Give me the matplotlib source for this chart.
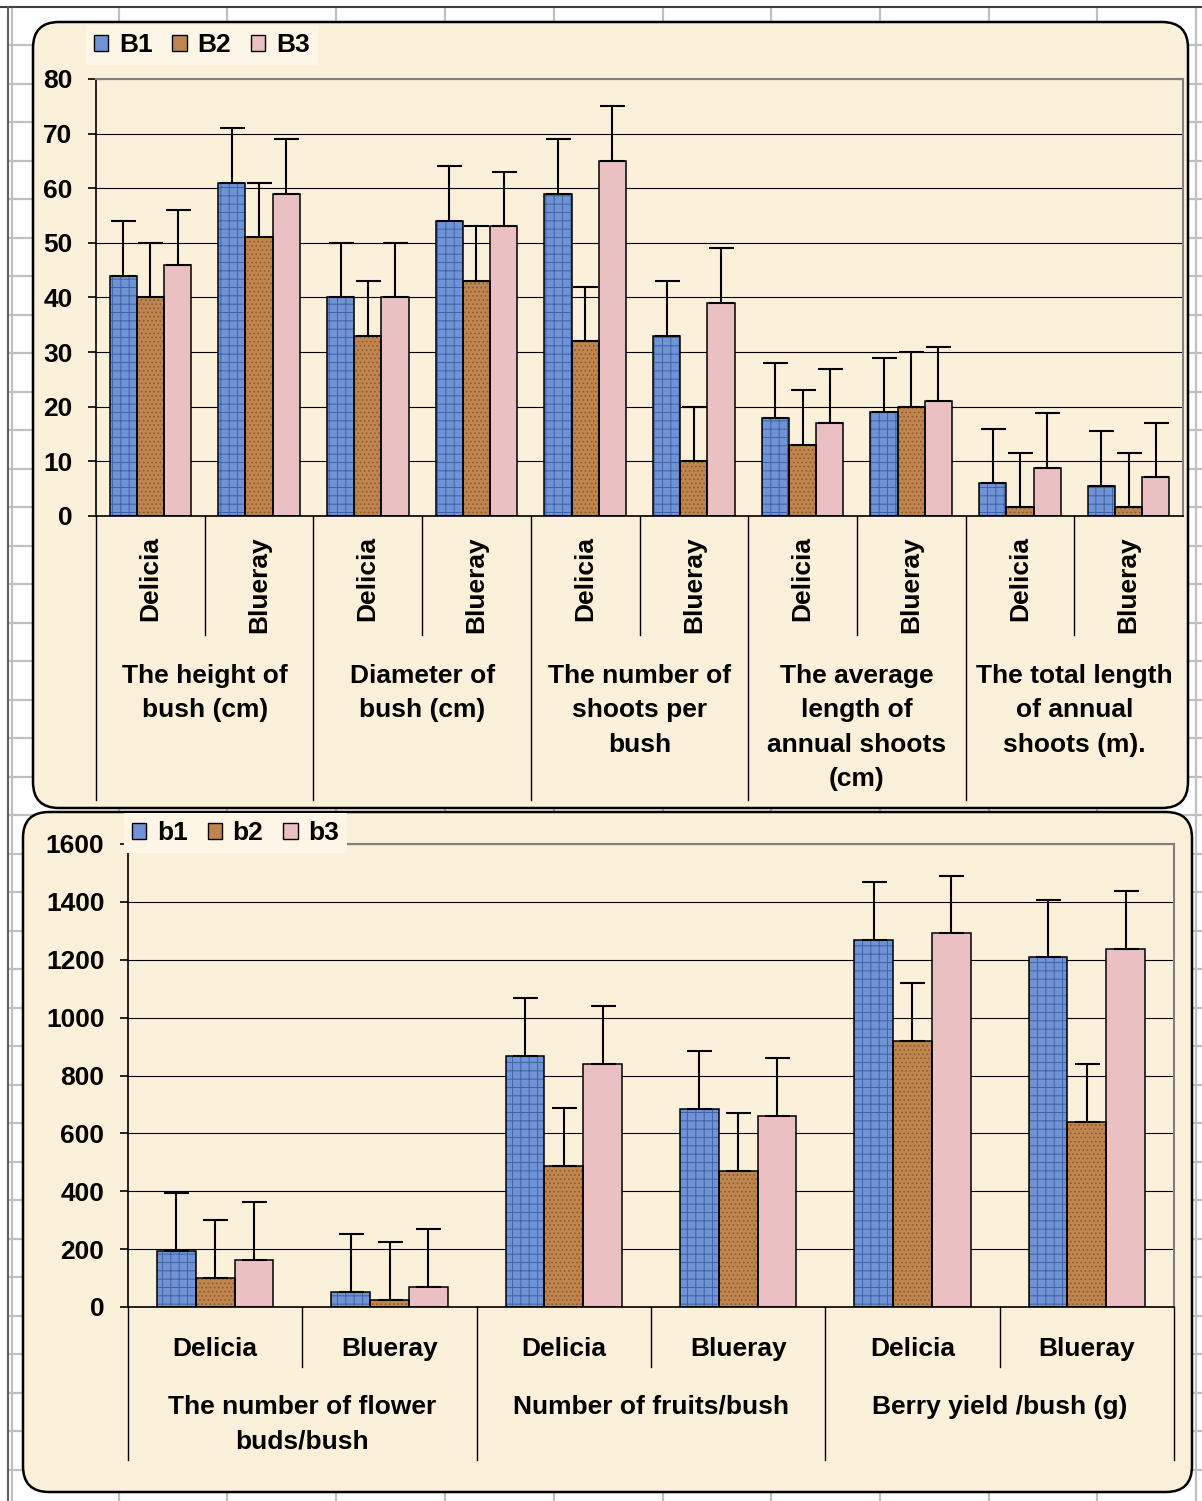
import matplotlib
matplotlib.use('Agg')
from matplotlib import pyplot as plt
from matplotlib.patches import FancyBboxPatch, Patch
import matplotlib.transforms as mtransforms
import numpy as np

# Data
top_groups = ['The height of\nbush (cm)', 'Diameter of\nbush (cm)',
              'The number of\nshoots per\nbush',
              'The average\nlength of\nannual shoots\n(cm)',
              'The total length\nof annual\nshoots (m).']
top_varieties = ['Delicia', 'Blueray'] * 5
top_B1 = [44, 61, 40, 54, 59, 33, 18, 19, 6.0, 5.5]
top_B2 = [40, 51, 33, 43, 32, 10, 13, 20, 1.6, 1.6]
top_B3 = [46, 59, 40, 53, 65, 39, 17, 21, 8.8, 7.1]
top_err = 10

bot_groups = ['The number of flower\nbuds/bush', 'Number of fruits/bush',
              'Berry yield /bush (g)']
bot_varieties = ['Delicia', 'Blueray'] * 3
bot_b1 = [194, 52, 867, 684, 1267, 1208]
bot_b2 = [100, 24, 487, 470, 920, 640]
bot_b3 = [163, 69, 840, 660, 1291, 1238]
bot_err = 200

# Style
W, H = 1202, 1501
plt.rcParams['font.family'] = ['Liberation Sans', 'DejaVu Sans']
plt.rcParams['font.weight'] = 'bold'
plt.rcParams['hatch.linewidth'] = 0.7
FS = 19
BG = '#FBF0DA'
colors = ['#7093D6', '#BF854F', '#EAC0C3']
hatch_colors = ['#3F62A8', '#8E5A2C', '#DDB0B4']
hatches = ['++', '....', None]

fig = plt.figure(figsize=(W / 100, H / 100), dpi=100)
fig.patch.set_facecolor('white')

# pixel-space background axes
bg = fig.add_axes([0, 0, 1, 1], zorder=0)
bg.set_xlim(0, W)
bg.set_ylim(H, 0)
bg.axis('off')

# spreadsheet cells behind the chart
for x in [12, 119, 227, 336, 445, 554, 663, 771, 880, 989, 1097, 1196]:
    bg.plot([x, x], [7, H], color='#C0C0C0', lw=1.6)
for y in np.arange(45, H, 38.5):
    bg.plot([10, W], [y, y], color='#C0C0C0', lw=1.6)
bg.plot([0, W], [7, 7], color='#404040', lw=1.5)
bg.plot([8, 8], [7, H], color='#606060', lw=1.5)

# rounded chart areas
for (x0, y0, x1, y1) in [(33, 22, 1188, 808), (23, 812, 1192, 1492)]:
    bg.add_patch(FancyBboxPatch((x0, y0), x1 - x0, y1 - y0,
                                boxstyle='round,pad=0,rounding_size=26',
                                fc=BG, ec='black', lw=1.8, zorder=2))


def make_axes(l, t, r, b):
    ax = fig.add_axes([l / W, 1 - b / H, (r - l) / W, (b - t) / H], zorder=1)
    ax.set_facecolor('none')
    return ax


def draw_panel(ax, series, names, err, width, ymax, ystep, varieties, groups,
               sub_rot, sub_y, sub_sep_end, grp_sep_end, grp_y, leg_xy, y0pix):
    n = len(varieties)
    x = np.arange(n)
    offsets = [-width, 0, width]
    handles = []
    for vals, off, c, hc, h, name in zip(series, offsets, colors, hatch_colors,
                                         hatches, names):
        ax.bar(x + off, vals, width, color=c, edgecolor=hc, hatch=h, lw=0,
               zorder=2)
        ax.bar(x + off, vals, width, color='none', edgecolor='black', lw=1.1,
               zorder=3)
        ax.errorbar(x + off, vals, yerr=[np.zeros(n), np.full(n, err)],
                    fmt='none', ecolor='black', elinewidth=1.5, capsize=9,
                    capthick=1.5, zorder=4)
        handles.append(Patch(facecolor=c, edgecolor='black', lw=1.0,
                             label=name))
    ax.set_xlim(-0.5, n - 0.5)
    ax.set_ylim(0, ymax)
    ax.set_yticks(np.arange(0, ymax + 1, ystep))
    ax.set_xticks([])
    ax.tick_params(axis='y', length=6, width=1.2, pad=11, labelsize=FS)
    ax.yaxis.grid(True, color='black', lw=0.8)
    ax.set_axisbelow(True)
    for s in ['top', 'right']:
        ax.spines[s].set_color('#808080')
        ax.spines[s].set_linewidth(1.5)
    for s in ['left', 'bottom']:
        ax.spines[s].set_linewidth(1.2)

    blend = mtransforms.blended_transform_factory(ax.transData, bg.transData)
    for i, v in enumerate(varieties):
        if sub_rot:
            ax.text(i, sub_y, v, rotation=90, ha='center', va='top',
                    fontsize=FS, transform=blend)
        else:
            ax.text(i, sub_y, v, ha='center', va='center', fontsize=FS,
                    transform=blend)
    for i in range(len(groups)):
        ax.plot([2 * i + 0.5] * 2, [y0pix, sub_sep_end], color='black',
                lw=1.0, transform=blend, clip_on=False)
        ax.plot([2 * i - 0.5] * 2, [y0pix, grp_sep_end], color='black',
                lw=1.0, transform=blend, clip_on=False)
        ax.text(2 * i + 0.5, grp_y, groups[i], ha='center', va='top',
                fontsize=FS, linespacing=1.55, transform=blend)

    leg = ax.legend(handles=handles, loc='center left', ncol=3,
                    bbox_to_anchor=leg_xy, bbox_transform=bg.transData,
                    fontsize=19, handlelength=0.55, handleheight=0.55,
                    handletextpad=0.4, columnspacing=0.75, borderpad=0.3,
                    borderaxespad=0, frameon=True, fancybox=False,
                    framealpha=1)
    leg.get_frame().set_facecolor('#FDF5E6')
    leg.get_frame().set_edgecolor('none')
    return ax


# Top panel
ax1 = make_axes(96, 79, 1183, 516)
draw_panel(ax1, [top_B1, top_B2, top_B3], ['B1', 'B2', 'B3'], top_err, 0.25,
           80, 10, top_varieties, top_groups, True, 536, 635, 800, 664,
           (86, 45), 516)

# Bottom panel
ax2 = make_axes(128, 844, 1174, 1307)
draw_panel(ax2, [bot_b1, bot_b2, bot_b3], ['b1', 'b2', 'b3'], bot_err,
           1 / 4.5, 1600, 200, bot_varieties, bot_groups, False, 1349, 1367,
           1460, 1395, (124, 833), 1307)
blend2 = mtransforms.blended_transform_factory(ax2.transData, bg.transData)
ax2.plot([5.5, 5.5], [1307, 1460], color='black', lw=1.0, transform=blend2,
         clip_on=False)

fig.savefig('out.png', dpi=100, facecolor=fig.get_facecolor())
